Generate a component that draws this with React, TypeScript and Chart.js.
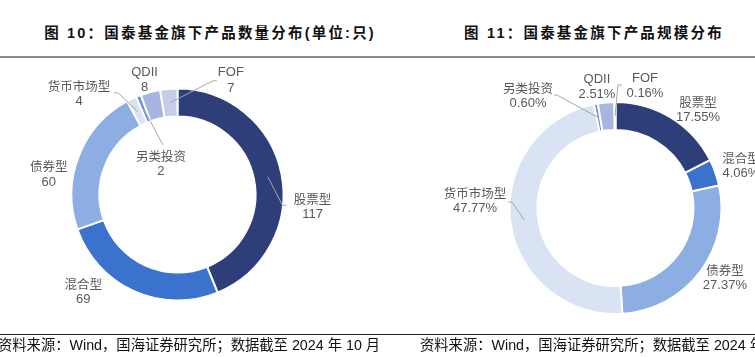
import React, { useEffect, useRef } from 'react';
import { Chart, registerables } from 'chart.js';

Chart.register(...registerables);

// ---------- data ----------
const categories = ['股票型', '混合型', '债券型', '货币市场型', '另类投资', 'QDII', 'FOF'];
const countValues = [117, 69, 60, 4, 2, 8, 7];
const countLabels = ['117', '69', '60', '4', '2', '8', '7'];
const scaleValues = [17.55, 4.06, 27.37, 47.77, 0.6, 2.51, 0.16];
const scaleLabels = ['17.55%', '4.06%', '27.37%', '47.77%', '0.60%', '2.51%', '0.16%'];

const title1 = '图 10：国泰基金旗下产品数量分布(单位:只)';
const title2 = '图 11：国泰基金旗下产品规模分布';
const sourceNote = '资料来源：Wind，国海证券研究所；数据截至 2024 年 10 月';

// ---------- styles ----------
const sliceColors = ['#2E3E78', '#3A72CD', '#8DAEE2', '#DAE3F4', '#6F8CD4', '#A8B5E0', '#C6CDEA'];

type LabelLayout = { dx: number; dy: number; leader?: [number, number][] };

// label anchor offsets from each slice's outer mid-point; leader points relative to label anchor
const countLayout: LabelLayout[] = [
  { dx: 32, dy: 25, leader: [[-30, 6], [-26, 6]] },
  { dx: -51, dy: -6 },
  { dx: -31, dy: 10 },
  { dx: -53, dy: -14, leader: [[39, 7], [35, 7]] },
  { dx: 22, dy: 59, leader: [[2, -11]] },
  { dx: -6, dy: -21 },
  { dx: 62, dy: -17, leader: [[-18, 8], [-14, 8]] },
];

const scaleLayout: LabelLayout[] = [
  { dx: 27.5, dy: -16.6 },
  { dx: 26.5, dy: -15 },
  { dx: 25.6, dy: -1.2 },
  { dx: -36.4, dy: -29.1, leader: [[37, 9], [33, 9]] },
  { dx: -68, dy: -16.8, leader: [[29, 7], [26, 7]] },
  { dx: -9.2, dy: -24.4 },
  { dx: 30, dy: -25, leader: [[-27, 7], [-23, 7]] },
];

function makeLabelPlugin(names: string[], valueTexts: string[], layout: LabelLayout[]) {
  return {
    id: 'sliceLabels',
    afterDatasetsDraw(chart: any) {
      const ctx = chart.ctx as CanvasRenderingContext2D;
      const meta = chart.getDatasetMeta(0);
      ctx.save();
      meta.data.forEach((arc: any, i: number) => {
        const p = arc.getProps(['x', 'y', 'startAngle', 'endAngle', 'innerRadius', 'outerRadius'], true);
        const mid = (p.startAngle + p.endAngle) / 2;
        const outerR = p.outerRadius - 1;
        const midR = (p.innerRadius + p.outerRadius) / 2;
        const ox = p.x + Math.cos(mid) * outerR;
        const oy = p.y + Math.sin(mid) * outerR;
        const lay = layout[i];
        const lx = ox + lay.dx;
        const ly = oy + lay.dy;
        if (lay.leader) {
          ctx.beginPath();
          ctx.strokeStyle = '#A6A6A6';
          ctx.lineWidth = 1;
          ctx.moveTo(p.x + Math.cos(mid) * midR, p.y + Math.sin(mid) * midR);
          lay.leader.forEach(([ax, ay]) => ctx.lineTo(lx + ax, ly + ay));
          ctx.stroke();
        }
        ctx.fillStyle = '#595959';
        ctx.textAlign = 'center';
        ctx.textBaseline = 'middle';
        const isLatin = /^[A-Za-z]+$/.test(names[i]);
        ctx.font = isLatin ? '13px "Liberation Sans", Arial' : '12.5px "Noto Sans CJK SC"';
        ctx.fillText(names[i], lx, ly);
        ctx.font = '13px "Liberation Sans", Arial';
        ctx.fillText(valueTexts[i], lx, ly + 15.5);
      });
      ctx.restore();
    },
  };
}

function DonutCanvas(props: {
  values: number[];
  names: string[];
  valueTexts: string[];
  layout: LabelLayout[];
  padding: { left: number; right: number; top: number; bottom: number };
}) {
  const ref = useRef<HTMLCanvasElement | null>(null);
  useEffect(() => {
    if (!ref.current) return;
    const chart = new Chart(ref.current, {
      type: 'doughnut',
      data: {
        labels: props.names,
        datasets: [
          {
            data: props.values,
            backgroundColor: sliceColors,
            borderColor: '#FFFFFF',
            borderWidth: 2,
          },
        ],
      },
      options: {
        responsive: false,
        animation: false,
        devicePixelRatio: 1,
        radius: 106,
        cutout: '73.6%',
        layout: { padding: props.padding },
        plugins: { legend: { display: false }, tooltip: { enabled: false } },
        events: [],
      } as any,
      plugins: [makeLabelPlugin(props.names, props.valueTexts, props.layout)],
    });
    return () => chart.destroy();
  }, []);
  return (
    <canvas
      ref={ref}
      width={755}
      height={357}
      style={{ position: 'absolute', left: 0, top: 0, width: 755, height: 357 }}
    />
  );
}

export default function App() {
  const titleStyle: React.CSSProperties = {
    position: 'absolute',
    top: 23,
    fontFamily: '"Liberation Sans", Arial, "Noto Sans CJK SC"',
    fontWeight: 'bold',
    fontSize: 14.5,
    letterSpacing: '2.2px',
    lineHeight: '20px',
    color: '#111',
    textAlign: 'center',
    whiteSpace: 'nowrap',
  };
  const footStyle: React.CSSProperties = {
    position: 'absolute',
    top: 336,
    fontFamily: '"Liberation Sans", Arial, "Noto Sans CJK SC"',
    fontSize: 14.3,
    lineHeight: '18px',
    color: '#111',
    whiteSpace: 'nowrap',
  };
  return (
    <div
      style={{
        position: 'absolute',
        left: 0,
        top: 0,
        width: 755,
        height: 357,
        overflow: 'hidden',
        background: '#FFFFFF',
      }}
    >
      <div style={{ ...titleStyle, left: 0, width: 420 }}>{title1}</div>
      <div style={{ ...titleStyle, left: 434, width: 320 }}>{title2}</div>
      <div style={{ position: 'absolute', left: 0, top: 56, width: 755, height: 2, background: '#8C8C8C' }} />
      <DonutCanvas
        values={countValues}
        names={categories}
        valueTexts={countLabels}
        layout={countLayout}
        padding={{ left: 0, right: 400, top: 32, bottom: 0 }}
      />
      <DonutCanvas
        values={scaleValues}
        names={categories}
        valueTexts={scaleLabels}
        layout={scaleLayout}
        padding={{ left: 476, right: 0, top: 59, bottom: 0 }}
      />
      <div style={{ position: 'absolute', left: 0, top: 334, width: 755, height: 1, background: '#222' }} />
      <div style={{ ...footStyle, left: -2 }}>{sourceNote}</div>
      <div style={{ ...footStyle, left: 420 }}>{sourceNote}</div>
    </div>
  );
}
